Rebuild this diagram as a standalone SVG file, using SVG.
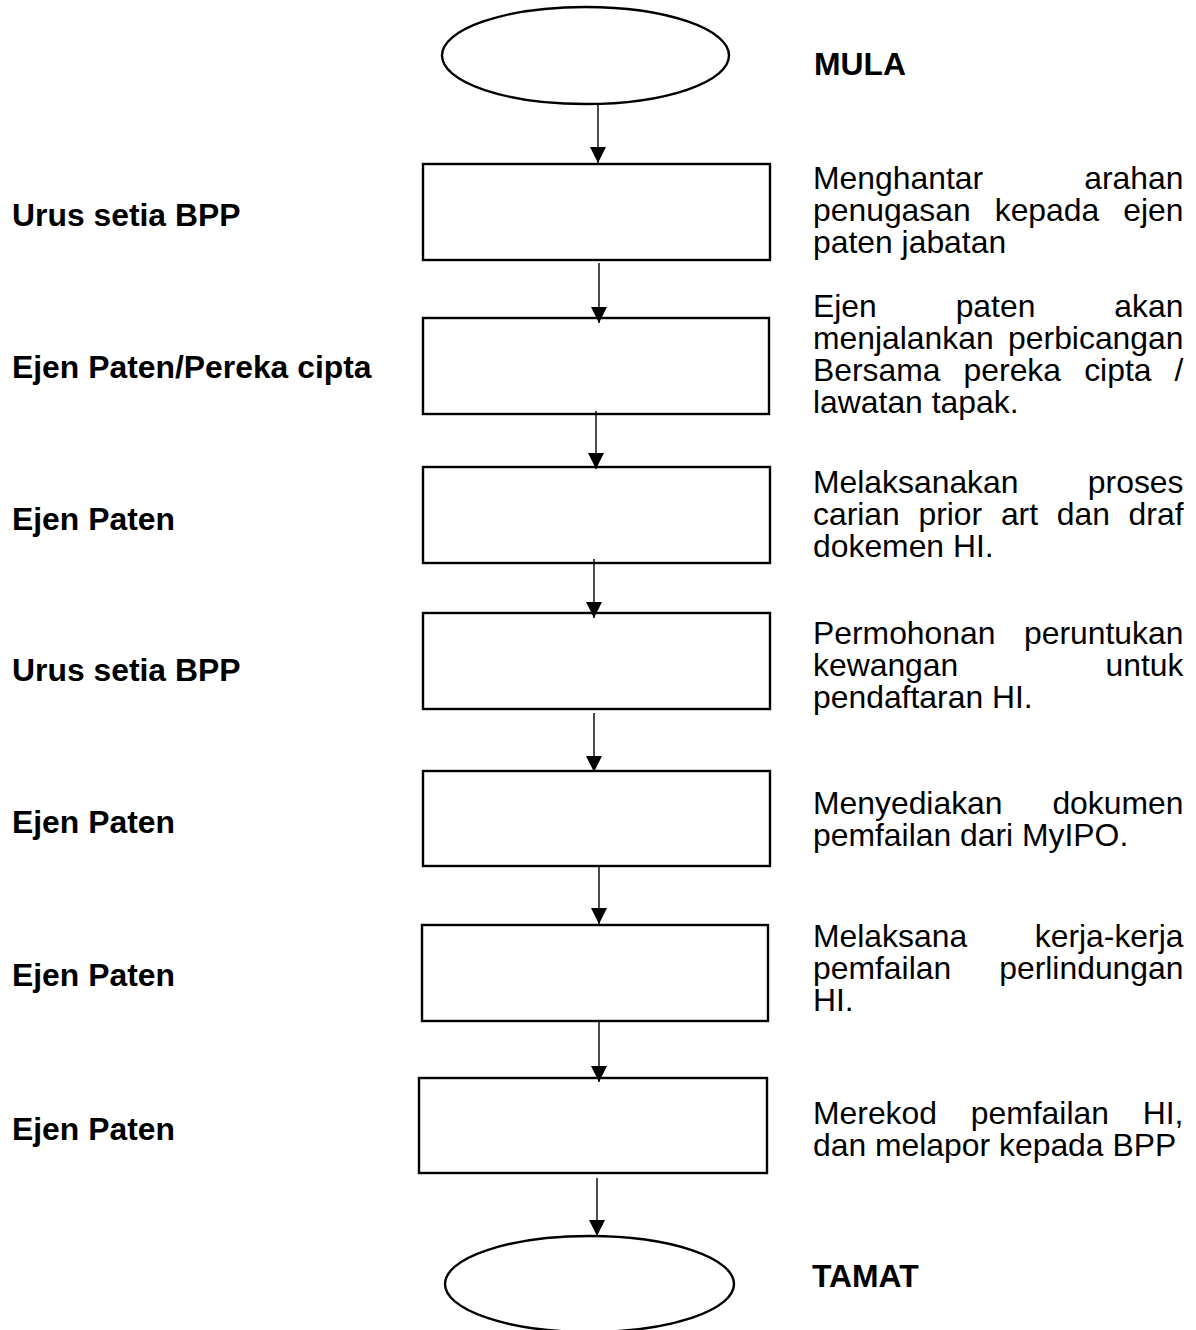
<svg xmlns="http://www.w3.org/2000/svg" width="1196" height="1330" viewBox="0 0 1196 1330">
  <style>
    .shape { fill: #ffffff; stroke: #000000; stroke-width: 2.4; }
    .flow { stroke: #000000; stroke-width: 1.4; fill: none; marker-end: url(#head); }
    .t { font-family: "Liberation Sans", Arial, sans-serif; font-size: 30.5px; fill: #000000; }
    .b { font-weight: bold; }
  </style>
  <defs>
    <marker id="head" markerUnits="userSpaceOnUse" markerWidth="16" markerHeight="16" viewBox="0 0 15 15" refX="15" refY="7.5" orient="auto">
      <path d="M0,0 L15,7.5 L0,15 Z" fill="#000000"/>
    </marker>
  </defs>
  <rect width="1196" height="1330" fill="#ffffff"/>

  <!-- process shapes -->
  <g id="start"><ellipse class="shape" cx="585.5" cy="55.5" rx="143.5" ry="48.5"/></g>
  <g id="step1"><rect class="shape" x="423" y="164" width="347" height="96"/></g>
  <g id="step2"><rect class="shape" x="423" y="318" width="346" height="96"/></g>
  <g id="step3"><rect class="shape" x="423" y="467" width="347" height="96"/></g>
  <g id="step4"><rect class="shape" x="423" y="613" width="347" height="96"/></g>
  <g id="step5"><rect class="shape" x="423" y="771" width="347" height="95"/></g>
  <g id="step6"><rect class="shape" x="422" y="925" width="346" height="96"/></g>
  <g id="step7"><rect class="shape" x="419" y="1078" width="348" height="95"/></g>
  <g id="end"><ellipse class="shape" cx="589.5" cy="1284" rx="144.5" ry="48"/></g>

  <!-- connectors -->
  <g id="connectors">
    <line class="flow" x1="598" y1="104" x2="598" y2="163"/>
    <line class="flow" x1="599" y1="263" x2="599" y2="323"/>
    <line class="flow" x1="596" y1="411" x2="596" y2="469"/>
    <line class="flow" x1="594" y1="559" x2="594" y2="618"/>
    <line class="flow" x1="594" y1="713" x2="594" y2="772"/>
    <line class="flow" x1="599" y1="866" x2="599" y2="924"/>
    <line class="flow" x1="599" y1="1022" x2="599" y2="1082"/>
    <line class="flow" x1="597" y1="1178" x2="597" y2="1236"/>
  </g>

  <!-- role labels (left column) -->
  <g id="roles" transform="translate(12,0) scale(1.045,1)">
    <text class="t b" x="0" y="226">Urus setia BPP</text>
    <text class="t b" x="0" y="378">Ejen Paten/Pereka cipta</text>
    <text class="t b" x="0" y="530">Ejen Paten</text>
    <text class="t b" x="0" y="681">Urus setia BPP</text>
    <text class="t b" x="0" y="833">Ejen Paten</text>
    <text class="t b" x="0" y="986">Ejen Paten</text>
    <text class="t b" x="0" y="1140">Ejen Paten</text>
  </g>

  <!-- terminal labels -->
  <g id="terminal-labels" transform="translate(814,0) scale(1.045,1)">
    <text class="t b" x="0" y="75">MULA</text>
    <text class="t b" x="-2" y="1287">TAMAT</text>
  </g>

  <!-- step descriptions (right column, justified) -->
  <g id="descriptions" transform="translate(813,0) scale(1.045,1)">
    <text class="t" y="189"><tspan x="0">Menghantar</tspan><tspan x="259.6">arahan</tspan></text>
    <text class="t" y="221"><tspan x="0">penugasan</tspan><tspan x="173.9">kepada</tspan><tspan x="296.9">ejen</tspan></text>
    <text class="t" y="253" x="0">paten jabatan</text>

    <text class="t" y="317"><tspan x="0">Ejen</tspan><tspan x="136.5">paten</tspan><tspan x="288.4">akan</tspan></text>
    <text class="t" y="349"><tspan x="0">menjalankan</tspan><tspan x="186.7">perbicangan</tspan></text>
    <text class="t" y="381"><tspan x="0">Bersama</tspan><tspan x="144.1">pereka</tspan><tspan x="259.5">cipta</tspan><tspan x="346.0">/</tspan></text>
    <text class="t" y="413" x="0">lawatan tapak.</text>

    <text class="t" y="493"><tspan x="0">Melaksanakan</tspan><tspan x="263.0">proses</tspan></text>
    <text class="t" y="525"><tspan x="0">carian</tspan><tspan x="100.9">prior</tspan><tspan x="179.8">art</tspan><tspan x="233.2">dan</tspan><tspan x="302.0">draf</tspan></text>
    <text class="t" y="557" x="0">dokemen HI.</text>

    <text class="t" y="644"><tspan x="0">Permohonan</tspan><tspan x="201.9">peruntukan</tspan></text>
    <text class="t" y="676"><tspan x="0">kewangan</tspan><tspan x="279.9">untuk</tspan></text>
    <text class="t" y="708" x="0">pendaftaran HI.</text>

    <text class="t" y="814"><tspan x="0">Menyediakan</tspan><tspan x="229.1">dokumen</tspan></text>
    <text class="t" y="846" x="0">pemfailan dari MyIPO.</text>

    <text class="t" y="947"><tspan x="0">Melaksana</tspan><tspan x="212.2">kerja-kerja</tspan></text>
    <text class="t" y="979"><tspan x="0">pemfailan</tspan><tspan x="178.2">perlindungan</tspan></text>
    <text class="t" y="1011" x="0">HI.</text>

    <text class="t" y="1124"><tspan x="0">Merekod</tspan><tspan x="151.0">pemfailan</tspan><tspan x="315.5">HI,</tspan></text>
    <text class="t" y="1156" x="0">dan melapor kepada BPP</text>
  </g>
</svg>
